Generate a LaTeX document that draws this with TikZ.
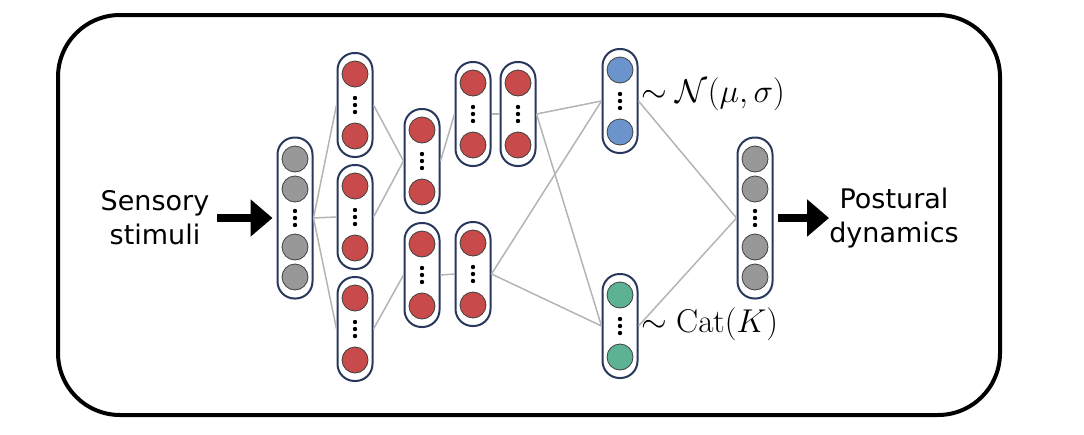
\RequirePackage{fix-cm}
\documentclass[tikz,border=0pt]{standalone}
\usepackage[no-math]{fontspec}
\setmainfont{DejaVu Sans}
\usepackage{amssymb, amsmath}
\usetikzlibrary{arrows.meta}
\definecolor{unitred}{RGB}{200,74,74}
\definecolor{unitgray}{RGB}{152,152,152}
\definecolor{unitblue}{RGB}{108,148,204}
\definecolor{unitgreen}{RGB}{94,178,148}
\definecolor{capnavy}{RGB}{40,55,92}
\definecolor{linkgray}{RGB}{180,180,180}

\begin{document}
\begin{tikzpicture}[x=1pt,y=-1pt]
      \tikzset{capsule/.style={draw=capnavy, line width=2pt, fill=white,
          minimum width=35pt, rounded corners=17pt, inner sep=0pt},
        unit/.style={circle, draw=black!75, line width=0.8pt, fill=#1,
          minimum size=26pt, inner sep=0pt},
        link/.style={draw=linkgray, line width=1.5pt},
        bigarrow/.style={line width=8pt, -{Triangle[length=22pt,width=36pt]}},
        caption/.style={align=center, inner sep=0pt,
          font=\fontsize{27}{34}\selectfont}
      }
      \useasboundingbox (0,0) rectangle (1084,434);
      \draw [line width=4pt, rounded corners=62pt] (58,15) rectangle (1000,415);

      % layers with two units
      \foreach \name/\x/\y/\col in {l2a/355/105/unitred, l2b/355/217/unitred,
          l2c/355/329/unitred, l3a/422/161/unitred, l3b/422/275/unitred,
          l4a/473/114/unitred, l4b/473/274/unitred, l5a/518/114/unitred,
          mu/620/101/unitblue, cat/620/326/unitgreen} {
        \node [capsule, minimum height=104pt] (\name) at (\x,\y) {};
        \node [unit=\col] (\name-1) at (\x,\y-31) {};
        \node [unit=\col] (\name-2) at (\x,\y+31) {};
        \foreach \d in {-7,0,7} \fill (\x,\y+\d) circle (2.2pt);
      }

      % layers with four units
      \foreach \name/\x/\y in {in/295/218, out/755/218} {
        \node [capsule, minimum height=161pt] (\name) at (\x,\y) {};
        \foreach \k/\d in {1/-59, 2/-29, 3/29, 4/59}
          \node [unit=unitgray] (\name-\k) at (\x,\y+\d) {};
        \foreach \d in {-7,0,7} \fill (\x,\y+\d) circle (2.2pt);
      }

      \foreach \a/\b in {in/l2a, in/l2b, in/l2c, l2a/l3a, l2b/l3a, l2c/l3b,
          l3a/l4a, l3b/l4b, l4a/l5a, l5a/mu, l5a/cat, l4b/mu, l4b/cat,
          mu/out, cat/out}
        \draw [link] (\a.east) -- (\b.west);

      \node [caption] (sens) at (155,218) {Sensory\\stimuli};
      \node [caption] (post) at (894,218) {Postural\\dynamics};
      \draw [bigarrow, shorten <=8pt, shorten >=4pt] (sens.east) -- (in.west);
      \draw [bigarrow, shorten <=4pt] (out.east) -- (post.west);

      \node [anchor=west, inner sep=0pt, font=\fontsize{33}{40}\selectfont]
        (mulab) at (641,94) {$\sim\mathcal{N}(\mu,\sigma)$};
      \node [anchor=west, inner sep=0pt, font=\fontsize{33}{40}\selectfont]
        (catlab) at (641,324) {$\sim\mathrm{Cat}(K)$};

    \end{tikzpicture}
\end{document}
